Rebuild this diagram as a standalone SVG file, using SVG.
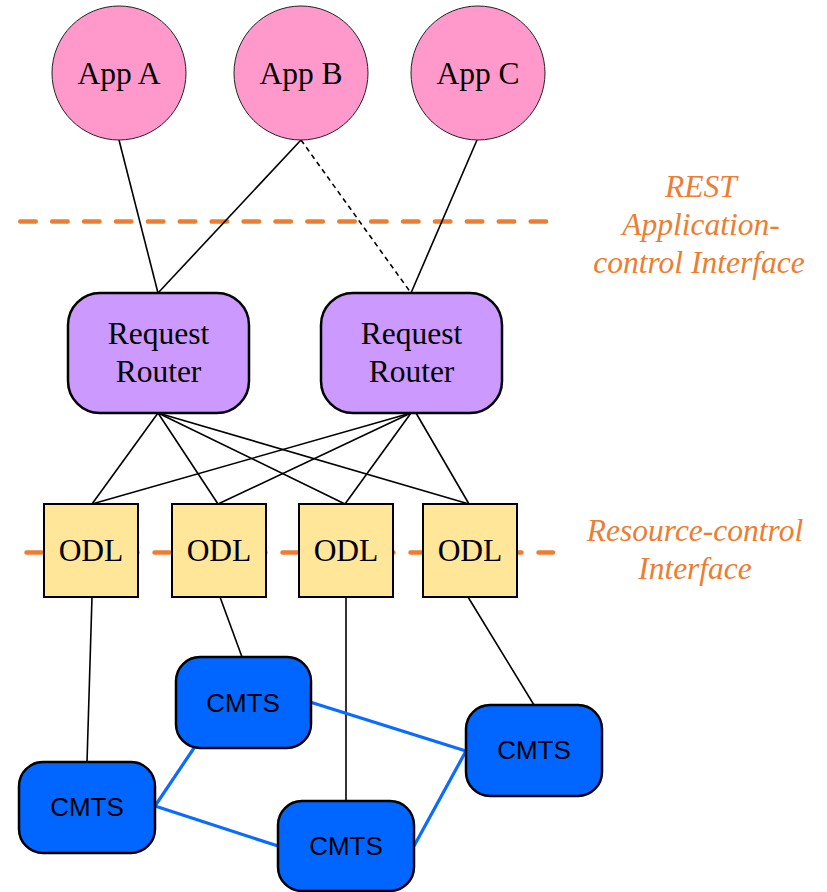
<svg xmlns="http://www.w3.org/2000/svg" width="827" height="892" viewBox="0 0 827 892">
<style>
.app{fill:#FF99CC;stroke:#222;stroke-width:1}
.rr{fill:#CC99FF;stroke:#000;stroke-width:2.5}
.odl{fill:#FFE699;stroke:#000;stroke-width:2}
.cmts{fill:#0066FF;stroke:#000;stroke-width:2.5}
.serif{font-family:"Liberation Serif","Times New Roman",serif;font-size:31.5px;fill:#000;text-anchor:middle}
.sans{font-family:"Liberation Sans",Arial,sans-serif;font-size:26px;fill:#000;text-anchor:middle}
.lbl{font-family:"Liberation Serif","Times New Roman",serif;font-style:italic;font-size:31.5px;fill:#ED7D31;text-anchor:middle}
.ln{stroke:#000;stroke-width:1.6;fill:none}
.blue{stroke:#0A6BFF;stroke-width:3.2;fill:none}
.bound{stroke:#ED7D31;stroke-width:4.5;stroke-linecap:round;stroke-dasharray:15.5 16.4;fill:none}
</style>
<rect width="827" height="892" fill="#fff"/>
<g id="boundaries">
<line class="bound" x1="20.25" y1="221.5" x2="546" y2="221.5"/>
<line class="bound" x1="26.5" y1="552.5" x2="553" y2="552.5" style="stroke-dasharray:15 17"/>
</g>
<g id="connectors">
<line class="ln" x1="119" y1="140" x2="158" y2="293"/>
<line class="ln" x1="301" y1="140" x2="158" y2="293"/>
<line class="ln" x1="301" y1="140" x2="411" y2="293" stroke-dasharray="5 4"/>
<line class="ln" x1="477" y1="140" x2="411" y2="293"/>
<line class="ln" x1="158" y1="413" x2="92" y2="504"/>
<line class="ln" x1="158" y1="413" x2="218" y2="504"/>
<line class="ln" x1="158" y1="413" x2="345" y2="504"/>
<line class="ln" x1="158" y1="413" x2="469" y2="504"/>
<line class="ln" x1="411" y1="413" x2="92" y2="504"/>
<line class="ln" x1="411" y1="413" x2="218" y2="504"/>
<line class="ln" x1="411" y1="413" x2="345" y2="504"/>
<line class="ln" x1="416" y1="413" x2="469" y2="504"/>
<line class="ln" x1="92" y1="597" x2="87" y2="762"/>
<line class="ln" x1="220" y1="597" x2="242" y2="657"/>
<line class="ln" x1="346" y1="597" x2="346" y2="801"/>
<line class="ln" x1="468" y1="597" x2="534" y2="705"/>
<line class="blue" x1="310" y1="702" x2="466" y2="751"/>
<line class="blue" x1="194" y1="748" x2="155" y2="806"/>
<line class="blue" x1="155" y1="806" x2="278" y2="846"/>
<line class="blue" x1="414" y1="846" x2="466" y2="751"/>
</g>
<g id="appA"><ellipse class="app" cx="119" cy="73" rx="67" ry="67"/><text class="serif" x="119" y="84">App A</text></g>
<g id="appB"><ellipse class="app" cx="301" cy="73" rx="67" ry="67"/><text class="serif" x="301" y="84">App B</text></g>
<g id="appC"><ellipse class="app" cx="478" cy="73" rx="67" ry="67"/><text class="serif" x="478" y="84">App C</text></g>
<g id="router1"><rect class="rr" x="68" y="293" width="181" height="120" rx="32"/><text class="serif" x="158.5" y="344">Request</text><text class="serif" x="158.5" y="382">Router</text></g>
<g id="router2"><rect class="rr" x="321" y="293" width="181" height="120" rx="32"/><text class="serif" x="411.5" y="344">Request</text><text class="serif" x="411.5" y="382">Router</text></g>
<g id="odl1"><rect class="odl" x="44" y="504" width="94" height="93"/><text class="serif" x="91" y="561">ODL</text></g>
<g id="odl2"><rect class="odl" x="172" y="504" width="94" height="93"/><text class="serif" x="219" y="561">ODL</text></g>
<g id="odl3"><rect class="odl" x="299" y="504" width="94" height="93"/><text class="serif" x="346" y="561">ODL</text></g>
<g id="odl4"><rect class="odl" x="423" y="504" width="94" height="93"/><text class="serif" x="470" y="561">ODL</text></g>
<g id="cmtsA"><rect class="cmts" x="19" y="762" width="136" height="91" rx="24"/><text class="sans" x="87" y="816">CMTS</text></g>
<g id="cmtsB"><rect class="cmts" x="176" y="657" width="135" height="91" rx="24"/><text class="sans" x="243" y="712">CMTS</text></g>
<g id="cmtsC"><rect class="cmts" x="466" y="705" width="136" height="91" rx="24"/><text class="sans" x="534" y="759">CMTS</text></g>
<g id="cmtsD"><rect class="cmts" x="278" y="801" width="136" height="90" rx="24"/><text class="sans" x="346" y="855">CMTS</text></g>
<g id="labelREST"><text class="lbl" x="701" y="197">REST</text><text class="lbl" x="701" y="235">Application-</text><text class="lbl" x="699" y="273">control Interface</text></g>
<g id="labelResource"><text class="lbl" x="695" y="541">Resource-control</text><text class="lbl" x="695" y="579">Interface</text></g>
</svg>
